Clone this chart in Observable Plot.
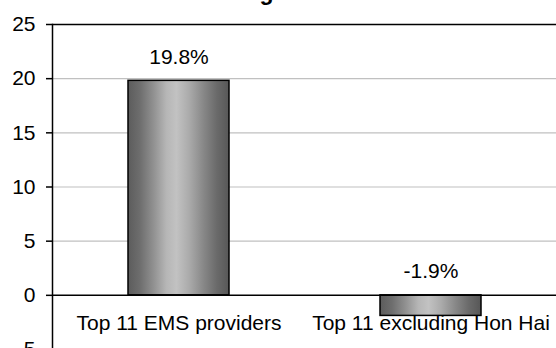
<!DOCTYPE html>
<html>
<head>
<meta charset="utf-8">
<script src="https://cdn.jsdelivr.net/npm/d3@7"></script>
<script src="https://cdn.jsdelivr.net/npm/@observablehq/plot@0.6"></script>
<style>
  html, body { margin: 0; padding: 0; background: #fff; overflow: hidden; }
  #chart svg { display: block; font-family: "Liberation Sans", Arial, sans-serif; }
</style>
</head>
<body>
<div id="chart"></div>
<script>
const title = "Sales of the largest EMS vendors";
const categories = ["Top 11 EMS providers", "Top 11 excluding Hon Hai"];
const values = [19.8, -1.9];
const valueLabels = ["19.8%", "-1.9%"];
const yTicks = [-5, 0, 5, 10, 15, 20, 25];
const gridTicks = [5, 10, 15, 20];

const data = categories.map((c, i) => ({cat: c, value: values[i], label: valueLabels[i]}));

const defs = () => {
  const d = d3.create("svg:defs");
  const g = d.append("linearGradient").attr("id", "barGrad").attr("x1", "0").attr("x2", "1").attr("y1", "0").attr("y2", "0");
  [[0, "#5c5c5c"], [0.12, "#6e6e6e"], [0.25, "#909090"], [0.38, "#b6b6b6"], [0.48, "#c2c2c2"], [0.6, "#acacac"], [0.75, "#878787"], [0.88, "#6a6a6a"], [1, "#575757"]]
    .forEach(([o, c]) => g.append("stop").attr("offset", o).attr("stop-color", c));
  return d.node();
};

const chart = Plot.plot({
  width: 556,
  height: 348,
  marginLeft: 52,
  marginRight: 0,
  marginTop: 24,
  marginBottom: -1,
  style: {fontSize: "21px", fontFamily: "'Liberation Sans', Arial, sans-serif", color: "#000", background: "#fff", overflow: "visible"},
  x: {domain: categories, paddingInner: 0.6, paddingOuter: 0.3, axis: null},
  y: {domain: [-5, 25], ticks: yTicks, label: null},
  marks: [
    defs,
    Plot.ruleY(gridTicks, {stroke: "#c0c0c0", strokeWidth: 1.2}),
    Plot.ruleY([25], {stroke: "#000", strokeWidth: 1.5}),
    Plot.barY(data, {x: "cat", y: "value", fill: "url(#barGrad)", stroke: "#000", strokeWidth: 1.5}),
    Plot.ruleY([0], {stroke: "#000", strokeWidth: 1.5}),
    Plot.axisY({ticks: yTicks, tickSize: 6, tickPadding: 11, stroke: "#000", strokeWidth: 1.5, label: null, fontSize: 21}),
    Plot.frame({anchor: "left", stroke: "#000", strokeWidth: 1.5}),
    Plot.text(data, {x: "cat", y: d => Math.max(d.value, 0), text: "label", dy: -17, lineAnchor: "bottom", fontSize: 21}),
    Plot.text(data, {x: "cat", y: 0, text: "cat", dy: 20, lineAnchor: "top", fontSize: 21}),
    Plot.text([title], {frameAnchor: "top", dx: -27, dy: -25, lineAnchor: "bottom", fontWeight: "bold", fontSize: 23})
  ]
});
document.getElementById("chart").appendChild(chart);
</script>
</body>
</html>
